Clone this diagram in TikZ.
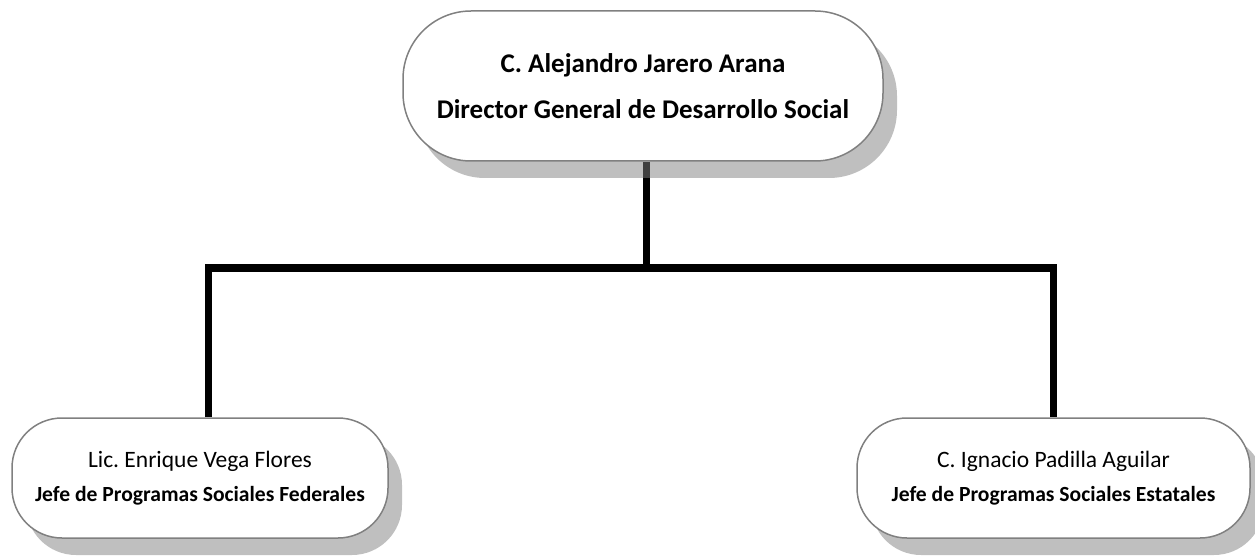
\documentclass[tikz,border=0pt]{standalone}
\usepackage{fontspec}
\setmainfont{Carlito}
\frenchspacing
\usetikzlibrary{positioning,shadows,backgrounds}

\begin{document}
\begin{tikzpicture}[x=1pt, y=-1pt,
  cargo/.style={draw=black!50, line width=1.5pt, fill=white, align=center, inner sep=0pt,
    drop shadow={shadow xshift=14pt, shadow yshift=-17pt}},
  jefe/.style={cargo, rounded corners=50pt, minimum height=120pt,
    font=\fontsize{21.6}{34}\selectfont},
  enlace/.style={line width=7.5pt, black}]
\useasboundingbox (0,0) rectangle (1255,556);

\node[cargo, rounded corners=68pt, minimum width=480pt, minimum height=150pt,
  font=\fontsize{27}{46}\selectfont\bfseries] (dir) at (643,86)
  {C. Alejandro Jarero Arana\\Director General de Desarrollo Social};

\node[jefe, minimum width=376pt] (fed) at (200,478)
  {{\fontsize{23.5}{34}\selectfont Lic. Enrique Vega Flores}\\\textbf{Jefe de Programas Sociales Federales}};
\node[jefe, minimum width=393pt] (est) at (1053.5,478)
  {{\fontsize{23.5}{34}\selectfont C. Ignacio Padilla Aguilar}\\\textbf{Jefe de Programas Sociales Estatales}};

\coordinate (mid) at (646.5,268);
\coordinate (izq) at (208.5,268);
\coordinate (der) at (1053.5,268);

\begin{scope}[on background layer]
\draw[enlace] (dir.south -| mid) -- (mid);
\draw[enlace] (fed.north -| izq) -- (izq) -- (der) -- (est.north -| der);
\end{scope}
\end{tikzpicture}
\end{document}
